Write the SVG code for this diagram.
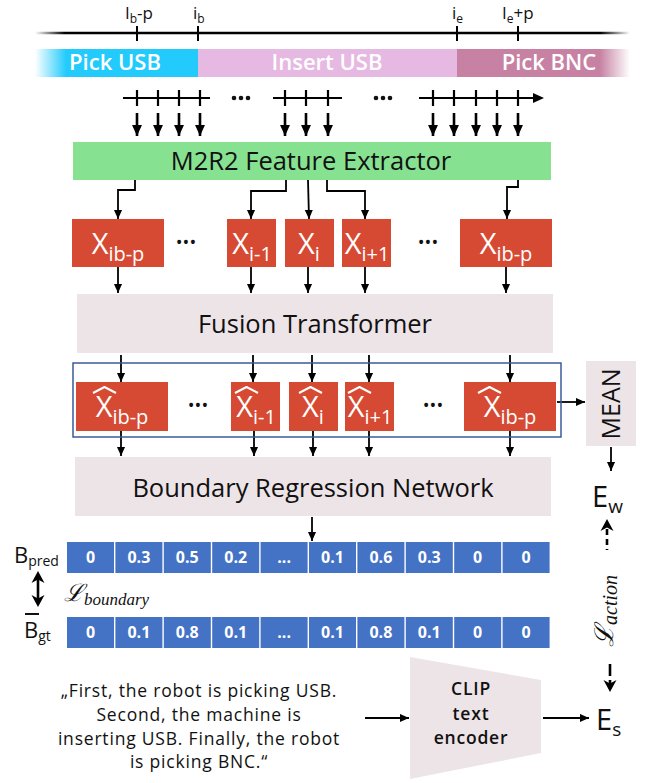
<svg xmlns="http://www.w3.org/2000/svg" width="647" height="783" viewBox="0 0 647 783">
<style>
.sans{font-family:"Open Sans","Noto Sans","DejaVu Sans",sans-serif;}
.lbl{font-family:"Open Sans","Noto Sans",sans-serif;font-size:17px;fill:#111;}
.bar{font-family:"Open Sans","Noto Sans",sans-serif;font-size:22px;font-weight:600;fill:#fff;text-anchor:middle;}
.big{font-family:"Open Sans","Noto Sans",sans-serif;font-size:25.5px;fill:#111;text-anchor:middle;}
.xt{font-family:"Open Sans","Noto Sans",sans-serif;font-size:29px;fill:#fff;text-anchor:middle;}
.cell{fill:#4472c4;}
.num{font-family:"Open Sans","Noto Sans",sans-serif;font-size:16px;font-weight:700;fill:#fff;text-anchor:middle;}
.gray{fill:#ede4e7;}
.red{fill:#d64a33;}
.dots{fill:#111;}
.conn{stroke:#000;stroke-width:1.8;fill:none;}
.thick{stroke:#000;stroke-width:2.6;fill:none;}
.head{fill:#000;}
.hat{stroke:#fff;stroke-width:2;fill:none;stroke-linejoin:round;}
.math{font-family:"Liberation Serif","DejaVu Serif",serif;font-style:italic;fill:#111;}
.quote{font-family:"Open Sans","Noto Sans",sans-serif;font-size:17.5px;letter-spacing:0.8px;fill:#111;text-anchor:middle;}
.clip{font-family:"Open Sans","Noto Sans",sans-serif;font-size:17.5px;font-weight:600;letter-spacing:0.8px;fill:#111;text-anchor:middle;}
.emb{font-family:"Open Sans","Noto Sans",sans-serif;font-size:29px;font-weight:500;fill:#111;}
</style>
<defs>
<linearGradient id="tl" gradientUnits="userSpaceOnUse" x1="35" y1="0" x2="630" y2="0">
<stop offset="0" stop-color="#000" stop-opacity="0"/>
<stop offset="0.05" stop-color="#000"/>
<stop offset="0.95" stop-color="#000"/>
<stop offset="1" stop-color="#000" stop-opacity="0"/>
</linearGradient>
<linearGradient id="gUSB" gradientUnits="userSpaceOnUse" x1="35" y1="0" x2="66" y2="0">
<stop offset="0" stop-color="#23cbfd" stop-opacity="0"/>
<stop offset="1" stop-color="#23cbfd"/>
</linearGradient>
<linearGradient id="gBNC" gradientUnits="userSpaceOnUse" x1="600" y1="0" x2="630" y2="0">
<stop offset="0" stop-color="#c782a3"/>
<stop offset="1" stop-color="#c782a3" stop-opacity="0"/>
</linearGradient>
<marker id="ah" viewBox="0 0 10 10" refX="10" refY="5" markerWidth="9" markerHeight="9" markerUnits="userSpaceOnUse" orient="auto"><path d="M0,0.5 L10,5 L0,9.5 z" fill="#000"/></marker>
<marker id="ahb" viewBox="0 0 10 10" refX="10" refY="5" markerWidth="11" markerHeight="11" markerUnits="userSpaceOnUse" orient="auto"><path d="M0,0.5 L10,5 L0,9.5 z" fill="#000"/></marker>
</defs>

<g id="timeline">
<line x1="35" y1="33" x2="630" y2="33" stroke="url(#tl)" stroke-width="2.4"/>
<g stroke="#000" stroke-width="2">
<line x1="137" y1="26" x2="137" y2="41"/>
<line x1="198" y1="26" x2="198" y2="41"/>
<line x1="457" y1="26" x2="457" y2="41"/>
<line x1="518" y1="26" x2="518" y2="41"/>
</g>
<text class="lbl" x="125" y="19">I<tspan dy="4" font-size="12">b</tspan><tspan dy="-4">-p</tspan></text>
<text class="lbl" x="193" y="19">i<tspan dy="4" font-size="12">b</tspan></text>
<text class="lbl" x="452" y="19">i<tspan dy="4" font-size="12">e</tspan></text>
<text class="lbl" x="502" y="19">I<tspan dy="4" font-size="12">e</tspan><tspan dy="-4">+p</tspan></text>
</g>

<g id="phases">
<rect x="35" y="49" width="163" height="28" fill="url(#gUSB)"/>
<rect x="198" y="49" width="259" height="28" fill="#e6b9e2"/>
<rect x="457" y="49" width="143" height="28" fill="#c782a3"/>
<rect x="600" y="49" width="30" height="28" fill="url(#gBNC)"/>
<text class="bar" x="115" y="70">Pick USB</text>
<text class="bar" x="327" y="70">Insert USB</text>
<text class="bar" x="549" y="70">Pick BNC</text>
</g>

<g id="frames">
<g stroke="#000" stroke-width="2.2">
<line x1="123" y1="98" x2="210" y2="98"/>
<line x1="273" y1="98" x2="342" y2="98"/>
<line x1="419" y1="98" x2="536" y2="98"/>
<line x1="137" y1="90" x2="137" y2="106"/><line x1="158" y1="90" x2="158" y2="106"/><line x1="179" y1="90" x2="179" y2="106"/><line x1="200" y1="90" x2="200" y2="106"/>
<line x1="285" y1="90" x2="285" y2="106"/><line x1="306" y1="90" x2="306" y2="106"/><line x1="328" y1="90" x2="328" y2="106"/>
<line x1="433" y1="90" x2="433" y2="106"/><line x1="454" y1="90" x2="454" y2="106"/><line x1="476" y1="90" x2="476" y2="106"/><line x1="497" y1="90" x2="497" y2="106"/><line x1="518" y1="90" x2="518" y2="106"/>
</g>
<path d="M533,93 L544,98 L533,103 z" fill="#000"/>
<g class="dots">
<circle cx="234" cy="98" r="2.3"/><circle cx="241" cy="98" r="2.3"/><circle cx="248" cy="98" r="2.3"/>
<circle cx="376" cy="98" r="2.3"/><circle cx="383" cy="98" r="2.3"/><circle cx="390" cy="98" r="2.3"/>
</g>
</g>

<g id="connectors">
<g class="thick" marker-end="url(#ahb)">
<line x1="137" y1="113" x2="137" y2="136"/><line x1="158" y1="113" x2="158" y2="136"/><line x1="179" y1="113" x2="179" y2="136"/><line x1="200" y1="113" x2="200" y2="136"/>
<line x1="285" y1="113" x2="285" y2="136"/><line x1="306" y1="113" x2="306" y2="136"/><line x1="328" y1="113" x2="328" y2="136"/>
<line x1="433" y1="113" x2="433" y2="136"/><line x1="454" y1="113" x2="454" y2="136"/><line x1="476" y1="113" x2="476" y2="136"/><line x1="497" y1="113" x2="497" y2="136"/><line x1="518" y1="113" x2="518" y2="136"/>
</g>
<g class="conn" marker-end="url(#ah)">
<polyline points="135,180 135,190 118,190 118,219"/>
<polyline points="286,180 286,191 251,191 251,219"/>
<line x1="308" y1="180" x2="309" y2="219"/>
<polyline points="327,180 327,191 365,191 365,219"/>
<polyline points="518,180 518,187 507,187 507,219"/>
<line x1="118" y1="267" x2="118" y2="293"/>
<line x1="251" y1="267" x2="251" y2="293"/>
<line x1="308" y1="267" x2="308" y2="293"/>
<line x1="365" y1="267" x2="365" y2="293"/>
<line x1="506" y1="267" x2="506" y2="293"/>
<line x1="121" y1="355" x2="121" y2="382"/>
<line x1="253" y1="355" x2="253" y2="382"/>
<line x1="312" y1="355" x2="312" y2="382"/>
<line x1="369" y1="355" x2="369" y2="382"/>
<line x1="510" y1="355" x2="510" y2="382"/>
<line x1="121" y1="431" x2="121" y2="456"/>
<line x1="254" y1="431" x2="254" y2="456"/>
<line x1="313" y1="431" x2="313" y2="456"/>
<line x1="369" y1="431" x2="369" y2="456"/>
<line x1="510" y1="431" x2="510" y2="456"/>
<line x1="557" y1="402" x2="585" y2="402"/>
<line x1="312" y1="517" x2="312" y2="541"/>
<line x1="611" y1="447" x2="611" y2="471"/>
<line x1="365" y1="718" x2="409" y2="718"/>
<line x1="543" y1="718" x2="589" y2="718"/>
</g>
<g id="boundary-loss-arrow">
<line class="thick" x1="38" y1="578" x2="38" y2="600"/>
<path class="head" d="M31.5,583 L38,571 L44.5,583 L38,579.5 z"/>
<path class="head" d="M31.5,595 L38,607 L44.5,595 L38,598.5 z"/>
</g>
<g id="action-loss-arrows">
<line class="thick" x1="607" y1="529" x2="607" y2="550" stroke-dasharray="6,4"/>
<path class="head" d="M600.5,531 L607,519 L613.5,531 L607,527.5 z"/>
<line class="thick" x1="610" y1="664" x2="610" y2="684" stroke-dasharray="12,4"/>
<path class="head" d="M603.5,680 L610,692 L616.5,680 L610,683.5 z"/>
</g>
</g>

<g id="feature-extractor">
<rect x="73" y="142" width="478" height="38" fill="#86e291"/>
<text class="big" x="311" y="170">M2R2 Feature Extractor</text>
</g>

<g id="features">
<rect class="red" x="72" y="219" width="92" height="48"/>
<text class="xt" x="118" y="254">X<tspan dy="7" font-size="20">ib-p</tspan></text>
<text class="sans" x="186" y="249" font-size="18" fill="#111" text-anchor="middle">•••</text>
<rect class="red" x="227" y="219" width="49" height="48"/>
<text class="xt" x="252" y="254">X<tspan dy="7" font-size="20">i-1</tspan></text>
<rect class="red" x="285" y="219" width="49" height="48"/>
<text class="xt" x="309" y="254">X<tspan dy="7" font-size="20">i</tspan></text>
<rect class="red" x="342" y="219" width="49" height="48"/>
<text class="xt" x="367" y="254">X<tspan dy="7" font-size="20">i+1</tspan></text>
<text class="sans" x="428" y="249" font-size="18" fill="#111" text-anchor="middle">•••</text>
<rect class="red" x="460" y="219" width="92" height="48"/>
<text class="xt" x="506" y="254">X<tspan dy="7" font-size="20">ib-p</tspan></text>
</g>

<g id="fusion-transformer">
<rect class="gray" x="77" y="294" width="476" height="59"/>
<text class="big" x="315" y="333">Fusion Transformer</text>
</g>

<g id="fused-features">
<rect x="73" y="363" width="488" height="74" fill="none" stroke="#3b5b9a" stroke-width="1.5"/>
<rect class="red" x="76" y="382" width="92" height="49"/>
<text class="xt" x="122" y="417">X<tspan dy="7" font-size="20">ib-p</tspan></text>
<path class="hat" d="M93,393 L104.5,387 L116,393"/>
<text class="sans" x="198" y="412" font-size="18" fill="#111" text-anchor="middle">•••</text>
<rect class="red" x="231" y="382" width="49" height="49"/>
<text class="xt" x="256" y="417">X<tspan dy="7" font-size="20">i-1</tspan></text>
<path class="hat" d="M235,393 L246.5,387 L258,393"/>
<rect class="red" x="289" y="382" width="49" height="49"/>
<text class="xt" x="313" y="417">X<tspan dy="7" font-size="20">i</tspan></text>
<path class="hat" d="M299,393 L310.5,387 L322,393"/>
<rect class="red" x="345" y="382" width="49" height="49"/>
<text class="xt" x="370" y="417">X<tspan dy="7" font-size="20">i+1</tspan></text>
<path class="hat" d="M348,393 L359.5,387 L371,393"/>
<text class="sans" x="433" y="412" font-size="18" fill="#111" text-anchor="middle">•••</text>
<rect class="red" x="464" y="382" width="92" height="49"/>
<text class="xt" x="510" y="417">X<tspan dy="7" font-size="20">ib-p</tspan></text>
<path class="hat" d="M478,393 L489.5,387 L501,393"/>
</g>

<g id="mean">
<rect class="gray" x="586" y="361" width="50" height="85"/>
<text class="sans" transform="translate(620,404) rotate(-90)" x="0" y="0" font-size="25" fill="#111" text-anchor="middle">MEAN</text>
</g>

<g id="ew">
<text class="emb" x="592" y="507">E<tspan dy="6" font-size="19">w</tspan></text>
</g>

<g id="boundary-regression">
<rect class="gray" x="75" y="457" width="476" height="59"/>
<text class="big" x="313" y="497">Boundary Regression Network</text>
</g>

<g id="b-pred">
<text class="sans" x="14" y="563" font-size="22" fill="#111">B<tspan dy="3" font-size="14">pred</tspan></text>
<rect class="cell" x="67" y="542" width="47" height="31"/>
<rect class="cell" x="115.4" y="542" width="47" height="31"/>
<rect class="cell" x="163.8" y="542" width="47" height="31"/>
<rect class="cell" x="212.2" y="542" width="47" height="31"/>
<rect class="cell" x="260.6" y="542" width="47" height="31"/>
<rect class="cell" x="309" y="542" width="47" height="31"/>
<rect class="cell" x="357.4" y="542" width="47" height="31"/>
<rect class="cell" x="405.8" y="542" width="47" height="31"/>
<rect class="cell" x="454.2" y="542" width="47" height="31"/>
<rect class="cell" x="502.6" y="542" width="47" height="31"/>
<text class="num" x="90.5" y="563">0</text>
<text class="num" x="138.9" y="563">0.3</text>
<text class="num" x="187.3" y="563">0.5</text>
<text class="num" x="235.7" y="563">0.2</text>
<text class="num" x="284.1" y="563">...</text>
<text class="num" x="332.5" y="563">0.1</text>
<text class="num" x="380.9" y="563">0.6</text>
<text class="num" x="429.3" y="563">0.3</text>
<text class="num" x="477.7" y="563">0</text>
<text class="num" x="526.1" y="563">0</text>
</g>

<g id="loss-boundary">
<text class="math" x="64" y="601" font-size="24" font-style="normal" font-family="DejaVu Serif, serif">ℒ<tspan dy="4" font-size="17" font-style="italic" font-family="Liberation Serif, serif">boundary</tspan></text>
</g>

<g id="b-gt">
<text class="sans" x="24" y="638" font-size="22" fill="#111">B<tspan dy="3" font-size="14">gt</tspan></text>
<line x1="25" y1="614" x2="39" y2="614" stroke="#111" stroke-width="2"/>
<rect class="cell" x="67" y="617" width="47" height="31"/>
<rect class="cell" x="115.4" y="617" width="47" height="31"/>
<rect class="cell" x="163.8" y="617" width="47" height="31"/>
<rect class="cell" x="212.2" y="617" width="47" height="31"/>
<rect class="cell" x="260.6" y="617" width="47" height="31"/>
<rect class="cell" x="309" y="617" width="47" height="31"/>
<rect class="cell" x="357.4" y="617" width="47" height="31"/>
<rect class="cell" x="405.8" y="617" width="47" height="31"/>
<rect class="cell" x="454.2" y="617" width="47" height="31"/>
<rect class="cell" x="502.6" y="617" width="47" height="31"/>
<text class="num" x="90.5" y="638">0</text>
<text class="num" x="138.9" y="638">0.1</text>
<text class="num" x="187.3" y="638">0.8</text>
<text class="num" x="235.7" y="638">0.1</text>
<text class="num" x="284.1" y="638">...</text>
<text class="num" x="332.5" y="638">0.1</text>
<text class="num" x="380.9" y="638">0.8</text>
<text class="num" x="429.3" y="638">0.1</text>
<text class="num" x="477.7" y="638">0</text>
<text class="num" x="526.1" y="638">0</text>
</g>

<g id="loss-action">
<text class="math" transform="translate(613,647) rotate(-90)" x="0" y="0" font-size="26" font-style="normal" font-family="DejaVu Serif, serif">ℒ<tspan dy="4" font-size="20" font-style="italic" font-family="Liberation Serif, serif">action</tspan></text>
</g>

<g id="caption">
<text class="quote" x="199" y="697">„First, the robot is picking USB.</text>
<text class="quote" x="199" y="721">Second, the machine is</text>
<text class="quote" x="199" y="745">inserting USB. Finally, the robot</text>
<text class="quote" x="199" y="768">is picking BNC.“</text>
</g>

<g id="clip-encoder">
<polygon class="gray" points="410,657 541,680 541,753 410,779"/>
<text class="clip" x="471" y="695">CLIP</text>
<text class="clip" x="471" y="720">text</text>
<text class="clip" x="471" y="744">encoder</text>
</g>

<g id="es">
<text class="emb" x="596" y="730">E<tspan dy="6" font-size="19">s</tspan></text>
</g>
</svg>
